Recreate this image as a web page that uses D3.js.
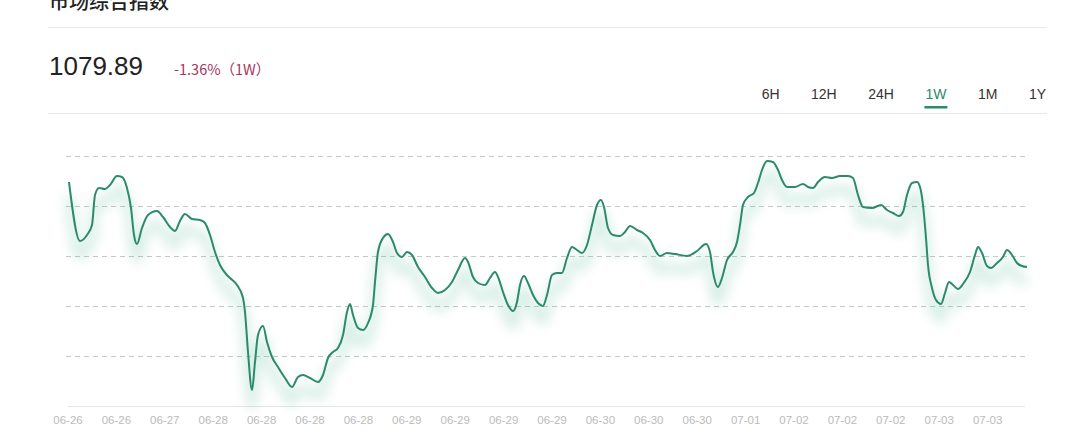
<!DOCTYPE html>
<html><head><meta charset="utf-8">
<script src="https://cdn.jsdelivr.net/npm/d3@7"></script>
<style>
html,body{margin:0;padding:0;background:#fff;}
svg{display:block;}
</style></head>
<body>
<svg id="chart" width="1078" height="435"></svg>
<script>
const title = "市场综合指数";
const lastValue = "1079.89";
const changeText = "-1.36%（1W）";
const ranges = ["6H","12H","24H","1W","1M","1Y"];
const activeRange = "1W";
const xLabels = ["06-26","06-26","06-27","06-28","06-28","06-28","06-28","06-29","06-29","06-29","06-29","06-30","06-30","06-30","07-01","07-02","07-02","07-02","07-03","07-03"];
const labelStep = 48.4;
const gridValues = [1066,1071,1076,1081,1086,1091];

const times = [1,12,19,24,27,31,37,42,49,54,59,63,66,69,74,80,89,95,102,107,112,117,124,132,137,142,147,152,158,162,169,175,177,180,184,187,190,195,199,204,210,217,224,230,235,242,250,255,260,265,270,275,279,282,285,290,295,300,305,307,310,315,320,325,329,334,339,344,350,357,364,370,377,384,390,397,400,405,410,417,422,427,430,435,440,445,449,452,456,460,465,470,475,479,484,489,494,499,504,509,514,519,524,529,533,536,540,545,552,557,562,569,575,582,587,592,599,607,619,629,638,642,645,650,654,659,665,669,672,675,680,686,690,694,699,705,710,714,719,727,735,740,745,750,757,764,772,780,785,790,795,804,813,819,825,831,835,839,844,849,852,855,858,860,864,868,873,877,881,885,890,895,902,907,910,914,919,923,929,935,939,944,949,954,959];
const values = [1088.4,1082.5,1083.1,1084.1,1087.1,1087.8,1087.7,1088.1,1089.0,1088.9,1087.8,1085.8,1083.1,1082.2,1083.8,1085.1,1085.5,1084.9,1083.9,1083.5,1084.5,1085.2,1084.7,1084.6,1084.3,1083.1,1081.4,1080.1,1079.2,1078.8,1078.1,1076.8,1075.4,1071.4,1067.6,1070.4,1073.1,1074.0,1072.4,1070.9,1069.9,1068.8,1067.9,1068.9,1069.1,1068.8,1068.4,1069.1,1070.8,1071.4,1071.8,1073.1,1075.4,1076.2,1075.1,1073.8,1073.6,1074.3,1076.1,1078.4,1081.4,1082.8,1083.2,1082.4,1081.3,1080.9,1081.4,1081.1,1079.9,1078.9,1077.8,1077.3,1077.6,1078.4,1079.6,1080.8,1080.4,1078.9,1078.3,1078.1,1078.8,1079.4,1078.9,1077.4,1076.1,1075.5,1076.4,1078.1,1079.0,1078.3,1077.1,1076.3,1076.0,1077.1,1079.1,1079.3,1079.3,1080.8,1081.9,1081.6,1081.3,1082.1,1084.1,1086.1,1086.6,1085.9,1083.8,1083.1,1083.0,1083.4,1084.0,1083.6,1083.3,1082.6,1081.6,1081.0,1081.3,1081.2,1081.0,1081.5,1082.2,1081.4,1079.4,1077.9,1078.8,1080.6,1081.4,1082.4,1084.1,1086.1,1086.9,1087.3,1088.3,1089.6,1090.5,1090.4,1089.6,1088.6,1087.9,1087.9,1088.2,1087.9,1087.8,1088.4,1088.9,1088.8,1089.0,1089.0,1088.8,1087.1,1085.9,1085.8,1086.1,1085.6,1085.3,1085.0,1085.4,1087.1,1088.3,1088.4,1087.9,1086.1,1082.8,1080.1,1077.8,1076.6,1076.2,1077.3,1078.4,1078.1,1077.7,1078.2,1079.4,1081.1,1081.9,1081.3,1080.0,1079.8,1080.3,1080.9,1081.6,1081.1,1080.3,1080.0,1079.9];

const svg = d3.select("#chart");
const green = "#2b8a6c";
const cjk = "'Noto Sans CJK SC','Liberation Sans',sans-serif";
const latin = "'Liberation Sans','Noto Sans CJK SC',Arial,sans-serif";

// header
svg.append("text").attr("x",49).attr("y",9).attr("font-family",cjk).attr("font-size",20).attr("font-weight",500).attr("fill","#222").text(title);
svg.append("line").attr("x1",48).attr("x2",1047).attr("y1",27.5).attr("y2",27.5).attr("stroke","#e8e8e8");
svg.append("text").attr("x",49).attr("y",75).attr("font-family",latin).attr("font-size",26).attr("fill","#222").text(lastValue);
svg.append("text").attr("x",174).attr("y",75).attr("font-family",cjk).attr("font-size",14.5).attr("fill","#a8345c").text(changeText);

// range tabs, right-aligned with equal gaps
const tabs = svg.append("g").selectAll("text").data(ranges).join("text")
  .attr("y",99).attr("font-family",latin).attr("font-size",14)
  .attr("fill",d=>d===activeRange?green:"#333").text(d=>d);
const widths = tabs.nodes().map(n=>n.getComputedTextLength());
const gap = 31.5;
let right = 1046;
const starts = [];
for (let i = ranges.length-1; i >= 0; i--) { starts[i] = right - widths[i]; right = starts[i] - gap; }
tabs.attr("x",(d,i)=>starts[i]);
const ai = ranges.indexOf(activeRange);
const ac = starts[ai] + widths[ai]/2;
svg.append("rect").attr("x",ac-11.5).attr("y",106).attr("width",23).attr("height",2.5).attr("fill",green);
svg.append("line").attr("x1",48).attr("x2",1047).attr("y1",113.5).attr("y2",113.5).attr("stroke","#e8e8e8");

// scales
const x = d3.scaleLinear().domain([0,959]).range([68,1027]);
const y = d3.scaleLinear().domain([1066,1091]).range([406,156]);

// grid
svg.append("g").selectAll("line").data(gridValues.slice(1)).join("line")
  .attr("x1",66).attr("x2",1025).attr("y1",d=>Math.round(y(d))+0.5).attr("y2",d=>Math.round(y(d))+0.5)
  .attr("stroke","#c8c8c8").attr("stroke-dasharray","5,4");
svg.append("line").attr("x1",68).attr("x2",1025).attr("y1",Math.round(y(gridValues[0]))+0.5).attr("y2",Math.round(y(gridValues[0]))+0.5).attr("stroke","#e6e6e6");

// x labels
svg.append("g").selectAll("text").data(xLabels).join("text")
  .attr("x",(d,i)=>x(i*labelStep)).attr("y",424).attr("text-anchor","middle")
  .attr("font-family",latin).attr("font-size",11.5).attr("fill","#bbbbbb").text(d=>d);

// line
const data = times.map((t,i)=>({t, v: values[i]}));
const line = d3.line().x(d=>x(d.t)).y(d=>y(d.v)).curve(d3.curveMonotoneX);

const defs = svg.append("defs");
const f = defs.append("filter").attr("id","glow").attr("x","-10%").attr("y","-30%").attr("width","120%").attr("height","160%");
f.append("feGaussianBlur").attr("stdDeviation",6);

svg.append("path").datum(data).attr("d",line)
  .attr("fill","none").attr("stroke","#3fae86").attr("stroke-width",10).attr("opacity",0.2)
  .attr("transform","translate(0,14)").attr("filter","url(#glow)");
svg.append("path").datum(data).attr("d",line)
  .attr("fill","none").attr("stroke",green).attr("stroke-width",2).attr("stroke-linejoin","round");
</script>
</body></html>
